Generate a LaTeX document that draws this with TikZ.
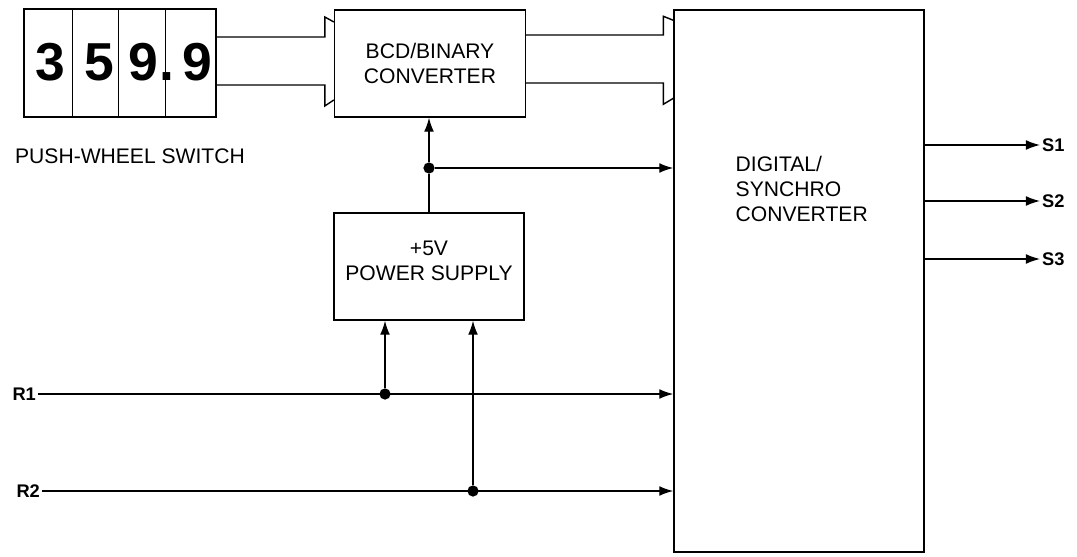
\documentclass[tikz,border=0pt]{standalone}
\usepackage{fontspec}
\setmainfont{Liberation Sans}
\usetikzlibrary{arrows.meta,calc}
\tikzset{
    blk/.style={draw, rectangle, line width=0.9pt, inner sep=0pt, align=center, font=\fontsize{15}{18}\selectfont},
    dot/.style={circle, fill, inner sep=0pt, minimum size=8pt},
    sig/.style={font=\fontsize{13}{15}\selectfont\bfseries, inner sep=1pt},
    digit/.style={font=\fontsize{38}{38}\selectfont\bfseries, inner sep=0pt, anchor=base}
}
\begin{document}
\begin{tikzpicture}[x=0.025cm, y=-0.025cm, line width=1pt, >={Latex[length=10pt,width=7pt]}]
    \useasboundingbox (0,0) rectangle (1077,557);

    \node[blk, minimum width=4.8cm, minimum height=2.7cm] (sw) at (120,63) {};
    \foreach \xd in {72,118,165}
        \draw[line width=0.6pt] (sw.north -| \xd,0) -- (sw.south -| \xd,0);
    \node[digit] (d1) at (50,81) {3};
    \node[digit] (d2) at (99,81) {5};
    \node[digit] (d3) at (143,81) {9};
    \node[digit] (dp) at (167,81) {.};
    \node[digit] (d4) at (197,81) {9};
    \node[font=\fontsize{15}{18}\selectfont] (swlabel) at (130,156) {PUSH-WHEEL SWITCH};

    \node[blk, minimum width=4.775cm, minimum height=2.675cm] (bcd) at (430,63.5) {BCD/BINARY\\CONVERTER};
    \node[blk, minimum width=4.75cm, minimum height=2.675cm] (ps) at (429,266.5) {+5V\\POWER SUPPLY\\[-9.5pt]};
    \node[blk, minimum width=6.25cm, minimum height=13.55cm] (ds) at (799,281) {};
    \node[anchor=west, align=left, inner sep=0pt, font=\fontsize{15}{18}\selectfont] (dstext) at (735,189) {DIGITAL/\\SYNCHRO\\CONVERTER};

    \draw ($(sw.east)+(0,-26)$) -| ($(bcd.west)+(-9,-46.5)$) -- ($(bcd.west)+(0,-41.5)$);
    \draw ($(sw.east)+(0,22)$) -| ($(bcd.west)+(-9,42.5)$) -- ($(bcd.west)+(0,36.5)$);
    \draw ($(bcd.east)+(0,-28.5)$) -| ($(ds.north west)+(-10,7)$) -- ($(ds.north west)+(0,11)$);
    \draw ($(bcd.east)+(0,19.5)$) -| ($(ds.north west)+(-10,95)$) -- ($(ds.north west)+(0,89)$);

    \node[dot] (jv) at (ps.north |- 0,168) {};
    \draw[->] (jv) -- (jv |- bcd.south);
    \draw (ps.north) -- (jv);
    \draw[->] (jv) -- (jv -| ds.west);

    \node[sig, anchor=east] (r1) at (38,394) {R1};
    \node[sig, anchor=east] (r2) at (42,491) {R2};
    \node[dot] (jr1) at (385,394) {};
    \node[dot] (jr2) at (473,491) {};
    \draw[->] (r1.east) -- (r1.east -| ds.west);
    \draw[->] (r2.east) -- (r2.east -| ds.west);
    \draw[->] (jr1) -- (jr1 |- ps.south);
    \draw[->] (jr2) -- (jr2 |- ps.south);

    \foreach \s/\ys in {1/145, 2/201, 3/259} {
        \node[sig, anchor=west] (s\s) at (1040,\ys) {S\s};
        \draw[->] (s\s.west -| ds.east) -- (s\s.west);
    }
\end{tikzpicture}
\end{document}
